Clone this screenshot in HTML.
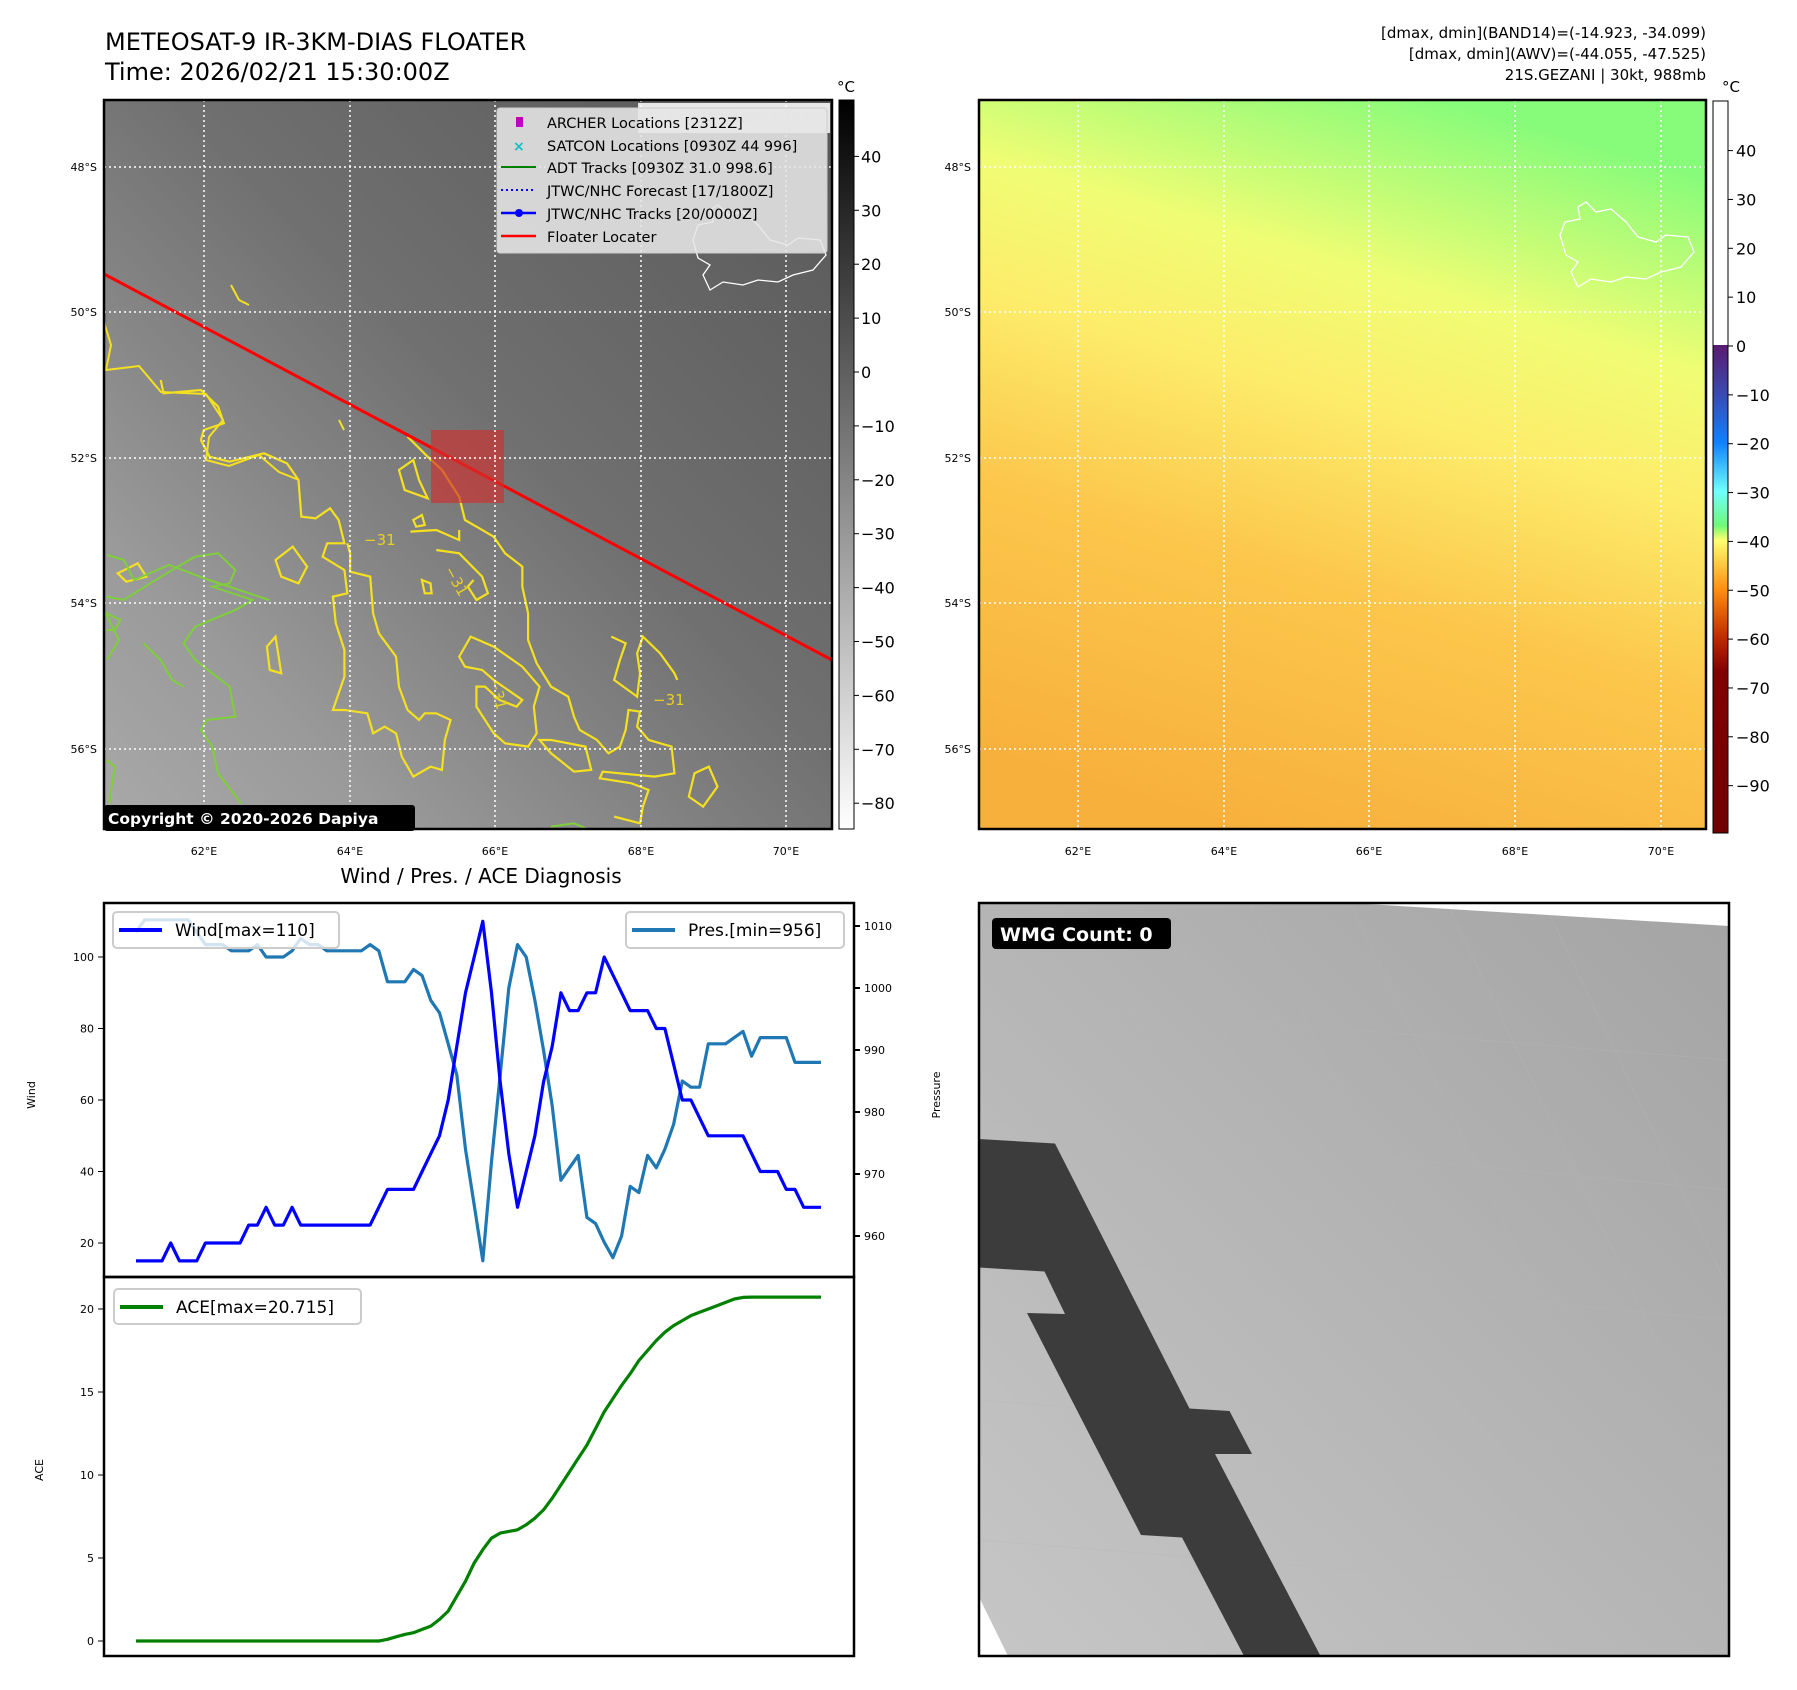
<!DOCTYPE html>
<html><head><meta charset="utf-8"><style>
html,body{margin:0;padding:0;background:#fff}
svg{display:block;font-family:"DejaVu Sans","Liberation Sans",sans-serif}
</style></head><body>
<svg id="fig" width="1797" height="1690" viewBox="0 0 1797 1690" xmlns="http://www.w3.org/2000/svg">
<defs>
<linearGradient id="irg" x1="1" y1="0" x2="0" y2="1">
<stop offset="0" stop-color="#585858"/><stop offset="0.45" stop-color="#707070"/><stop offset="0.8" stop-color="#9a9a9a"/><stop offset="1" stop-color="#a9a9a9"/></linearGradient>
<linearGradient id="awg" x1="0.65" y1="0" x2="0.35" y2="1">
<stop offset="0" stop-color="#86fc7a"/><stop offset="0.25" stop-color="#f0fd74"/><stop offset="0.42" stop-color="#fdec6a"/><stop offset="0.65" stop-color="#fcc74c"/><stop offset="1" stop-color="#f7b03c"/></linearGradient>
<linearGradient id="cb1" x1="0" y1="0" x2="0" y2="1"><stop offset="0" stop-color="#000"/><stop offset="1" stop-color="#fff"/></linearGradient>
<linearGradient id="cb2" x1="0" y1="0" x2="0" y2="1">
<stop offset="0" stop-color="#fff"/><stop offset="0.3333" stop-color="#fff"/><stop offset="0.3334" stop-color="#5a1a70"/>
<stop offset="0.4" stop-color="#3a4ab0"/><stop offset="0.4667" stop-color="#1080ff"/><stop offset="0.5333" stop-color="#70ffff"/>
<stop offset="0.58" stop-color="#70f878"/><stop offset="0.6" stop-color="#ffff70"/><stop offset="0.6667" stop-color="#ff9010"/>
<stop offset="0.7333" stop-color="#c02a00"/><stop offset="0.78" stop-color="#800000"/><stop offset="1" stop-color="#700000"/></linearGradient>
<linearGradient id="wmg" x1="0" y1="1" x2="1" y2="0"><stop offset="0" stop-color="#c6c6c6"/><stop offset="1" stop-color="#a4a4a4"/></linearGradient>
<clipPath id="clipL"><rect x="104" y="100" width="728" height="729"/></clipPath>
</defs>

<text x="105" y="50" font-size="24">METEOSAT-9 IR-3KM-DIAS FLOATER</text>
<text x="105" y="80" font-size="24">Time: 2026/02/21 15:30:00Z</text>
<g font-size="15" text-anchor="end">
<text x="1706" y="38">[dmax, dmin](BAND14)=(-14.923, -34.099)</text>
<text x="1706" y="59">[dmax, dmin](AWV)=(-44.055, -47.525)</text>
<text x="1706" y="80">21S.GEZANI | 30kt, 988mb</text></g>

<g>
<rect x="104" y="100" width="728" height="729" fill="url(#irg)"/>
<g clip-path="url(#clipL)">
<g transform="translate(0,380) scale(0.574,0.3333)" fill="none" stroke="#f5e020" stroke-width="2.2">
<path vector-effect="non-scaling-stroke" d="M280,0 L285,40 L350,30 L380,80 L390,130 L355,150 L350,180 L365,230 L400,245 L460,220 L500,250 L520,300 L525,410 L550,415 L575,385 L590,420 L600,490 L570,490 L562,530 L600,570 L605,640 L580,650 L585,730 L600,810 L600,890 L580,990 L600,990 L640,1000 L650,1060 L670,1040 L690,1060 L700,1130 L720,1190 L750,1160 L770,1170 L775,1080 L785,1020 L760,1000 L740,1000 L730,1020 L710,990 L695,920 L690,830 L660,760 L650,700 L645,590 L610,575 L610,520 L605,490"/>
<path vector-effect="non-scaling-stroke" d="M710,170 L745,230 L770,270 L800,350 L810,420 L840,450 L860,470 L880,520 L910,560 L910,620 L920,700 L920,780 L935,850 L960,920 L990,950 L1000,1010 L1010,1050 L1040,1080 L1060,1120 L1080,1100 L1090,1050 L1095,990 L1115,995 L1110,1040 L1130,1080 L1170,1100 L1175,1180 L1140,1190 L1050,1175 L1045,1195 L1100,1210 L1130,1230 L1120,1280 L1115,1330 L1070,1310"/>
<path vector-effect="non-scaling-stroke" d="M1065,770 L1090,790 L1080,840 L1070,900 L1110,950 L1115,880 L1110,820 L1120,770 L1150,820 L1175,880 L1180,900"/>
<path vector-effect="non-scaling-stroke" d="M820,770 L800,830 L810,860 L840,870 L860,900 L910,960 L900,980 L870,960 L845,920 L830,920 L830,980 L860,1060 L880,1090 L920,1100 L935,1060 L930,980 L940,920 L910,860 L860,800 Z"/>
<path vector-effect="non-scaling-stroke" d="M480,540 L510,500 L535,560 L520,610 L490,590 Z M465,800 L480,770 L490,880 L470,870 Z M1210,1180 L1235,1160 L1250,1220 L1225,1280 L1200,1250 Z M695,270 L720,240 L730,300 L745,355 L705,330 Z M720,420 L735,405 L740,435 L725,440 Z M735,600 L750,610 L752,640 L740,640 Z M940,1080 L960,1080 L1020,1100 L1030,1170 L1000,1175 L960,1120 Z M205,580 L240,550 L255,590 L220,605 Z M715,455 L760,450 L800,480 L800,450 M760,510 L800,520 L840,590 L850,640 L830,660 L815,620 L825,600"/>
</g>
<g transform="translate(0,380) scale(0.574,0.3333)" fill="none" stroke="#7ecf3a" stroke-width="2">
<path vector-effect="non-scaling-stroke" d="M185,650 L215,660 L290,580 L340,530 L380,520 L410,570 L400,610 L370,620 L440,660 L410,690 L340,740 L320,790 L340,840 L370,880 L400,920 L410,1010 L360,1020 L350,1050 L370,1100 L380,1180 L420,1270"/>
<path vector-effect="non-scaling-stroke" d="M185,1140 L200,1160 L190,1270 M185,700 L210,720 L200,750 L185,750 M250,790 L280,840 L300,900 L320,920 M960,1340 L1000,1330 L1020,1345"/>
</g>
<path d="M104,322 L111,345 L106,370 L139,366 L161,392 L206,394 L223,420 L209,437 L206,460 L229,466 L259,455 L279,472 L299,480 M231,285 L239,300 L249,305 M339,420 L344,430" fill="none" stroke="#f5e020" stroke-width="2"/>
<path d="M107,555 L124,560 L134,580 L169,565 L209,580 L269,600 M104,610 L119,640 L107,660" fill="none" stroke="#7ecf3a" stroke-width="2"/>
<g font-size="15" fill="#e8d020">
<text x="364" y="545">−31</text><text x="653" y="705">−31</text><text x="444" y="570" transform="rotate(60 444 570)">−31</text><text x="489" y="680" transform="rotate(75 489 680)">−31</text></g>
<path d="M693,240 L698,225 L713,222 L710,210 L718,205 L728,215 L743,212 L758,225 L770,240 L788,245 L798,238 L820,240 L826,255 L813,270 L793,275 L778,282 L758,280 L743,285 L723,282 L710,290 L703,275 L710,265 L698,258 Z" fill="none" stroke="#fff" stroke-width="1.3"/>
<line x1="104" y1="274" x2="832" y2="660" stroke="#ff0000" stroke-width="3"/>
<rect x="431" y="430" width="73" height="73" fill="#d03030" fill-opacity="0.65"/>
</g>
<g stroke="#fff" stroke-width="1.5" stroke-dasharray="2,3">
<line x1="204" y1="100" x2="204" y2="829"/><line x1="350" y1="100" x2="350" y2="829"/><line x1="495" y1="100" x2="495" y2="829"/><line x1="641" y1="100" x2="641" y2="829"/><line x1="786" y1="100" x2="786" y2="829"/>
<line x1="104" y1="167" x2="832" y2="167"/><line x1="104" y1="312" x2="832" y2="312"/><line x1="104" y1="458" x2="832" y2="458"/><line x1="104" y1="603" x2="832" y2="603"/><line x1="104" y1="749" x2="832" y2="749"/></g>
<g>
<rect x="638" y="103" width="192" height="30" fill="#fff" fill-opacity="0.85"/>
<text x="646" y="124" font-size="16" font-weight="bold" fill="#d8d8d8">© EUMETSAT 2026</text>
<rect x="497" y="108" width="330" height="145" fill="#e6e6e6" fill-opacity="0.88" stroke="#ccc" rx="3"/>
<rect x="516" y="117" width="7" height="10" fill="#c000c0"/>
<text x="513" y="151" font-size="14" fill="#10c0c0" font-weight="bold">×</text>
<line x1="501" y1="167" x2="536" y2="167" stroke="#008000" stroke-width="2"/>
<line x1="501" y1="190" x2="536" y2="190" stroke="#0000ff" stroke-width="2" stroke-dasharray="2,3"/>
<line x1="501" y1="213" x2="536" y2="213" stroke="#0000ff" stroke-width="2.5"/><circle cx="519" cy="213" r="4" fill="#0000ff"/>
<line x1="501" y1="236" x2="536" y2="236" stroke="#ff0000" stroke-width="2.5"/>
<g font-size="14.5" fill="#000"><text x="547" y="128">ARCHER Locations [2312Z]</text><text x="547" y="151">SATCON Locations [0930Z 44 996]</text><text x="547" y="173">ADT Tracks [0930Z 31.0 998.6]</text><text x="547" y="196">JTWC/NHC Forecast [17/1800Z]</text><text x="547" y="219">JTWC/NHC Tracks [20/0000Z]</text><text x="547" y="242">Floater Locater</text></g>
</g>
<rect x="104" y="805" width="311" height="26" fill="#000" rx="3"/>
<text x="108" y="824" font-size="15.5" font-weight="bold" fill="#fff">Copyright © 2020-2026 Dapiya</text>
<rect x="104" y="100" width="728" height="729" fill="none" stroke="#000" stroke-width="2.5"/>
</g>
<g font-size="11">
<g text-anchor="end"><text x="97" y="171">48°S</text><text x="97" y="316">50°S</text><text x="97" y="462">52°S</text><text x="97" y="607">54°S</text><text x="97" y="753">56°S</text></g>
<g text-anchor="middle"><text x="204" y="855">62°E</text><text x="350" y="855">64°E</text><text x="495" y="855">66°E</text><text x="641" y="855">68°E</text><text x="786" y="855">70°E</text></g></g>
<g>
<rect x="839" y="100" width="15" height="729" fill="url(#cb1)" stroke="#000" stroke-width="1"/>
<text x="846" y="92" font-size="15" text-anchor="middle">°C</text>
<g font-size="16" id="cb1ticks"></g></g>

<g>
<rect x="979" y="100" width="727" height="729" fill="url(#awg)"/>
<path d="M1560,235 L1565,222 L1580,219 L1578,207 L1586,202 L1596,212 L1611,209 L1626,222 L1638,237 L1656,242 L1666,235 L1688,237 L1694,252 L1681,267 L1661,272 L1646,279 L1626,277 L1611,282 L1591,279 L1578,287 L1571,272 L1578,262 L1566,255 Z" fill="none" stroke="#fff" stroke-width="1.3"/>
<g stroke="#fff" stroke-width="1.5" stroke-dasharray="2,3">
<line x1="1078" y1="100" x2="1078" y2="829"/><line x1="1224" y1="100" x2="1224" y2="829"/><line x1="1369" y1="100" x2="1369" y2="829"/><line x1="1515" y1="100" x2="1515" y2="829"/><line x1="1661" y1="100" x2="1661" y2="829"/>
<line x1="979" y1="167" x2="1706" y2="167"/><line x1="979" y1="312" x2="1706" y2="312"/><line x1="979" y1="458" x2="1706" y2="458"/><line x1="979" y1="603" x2="1706" y2="603"/><line x1="979" y1="749" x2="1706" y2="749"/></g>
<rect x="979" y="100" width="727" height="729" fill="none" stroke="#000" stroke-width="2.5"/>
</g>
<g font-size="11">
<g text-anchor="end"><text x="971" y="171">48°S</text><text x="971" y="316">50°S</text><text x="971" y="462">52°S</text><text x="971" y="607">54°S</text><text x="971" y="753">56°S</text></g>
<g text-anchor="middle"><text x="1078" y="855">62°E</text><text x="1224" y="855">64°E</text><text x="1369" y="855">66°E</text><text x="1515" y="855">68°E</text><text x="1661" y="855">70°E</text></g></g>
<g>
<rect x="1713" y="101" width="15" height="732" fill="url(#cb2)" stroke="#000" stroke-width="1"/>
<text x="1731" y="92" font-size="15" text-anchor="middle">°C</text>
<g font-size="16" id="cb2ticks"></g></g>

<text x="481" y="883" font-size="20" text-anchor="middle">Wind / Pres. / ACE Diagnosis</text>
<g id="windPanel"></g>
<g id="acePanel"></g>

<g>
<rect x="979" y="903" width="750" height="753" fill="url(#wmg)"/>
<g stroke="#b8b8b8" stroke-opacity="0.35" stroke-width="1" fill="none">
<path d="M1010,903 L1100,1100 M1080,903 L1200,1150 M1160,903 L1320,1230 M1250,903 L1430,1280 M1350,903 L1550,1320 M1450,910 L1680,1390 M1550,915 L1729,1290"/>
<path d="M979,1000 L1729,1060 M979,1120 L1729,1190 M979,1250 L1729,1320 M979,1400 L1729,1460 M979,1540 L1729,1600"/>
</g>
<polygon points="1350,903 1729,903 1729,926" fill="#fff"/>
<polygon points="979,1597 979,1656 1008,1656" fill="#fff"/>
<polygon points="979,1139 1055,1143.5 1189.5,1408.5 1229.5,1411 1252,1454 1215,1454 1320,1655 1243.5,1655 1182,1537.5 1141,1535 1027,1313 1065,1314 1044.5,1271.5 979,1267.5" fill="#3c3c3c"/>
<rect x="979" y="903" width="750" height="753" fill="none" stroke="#000" stroke-width="2.5"/>
<rect x="992" y="918" width="179" height="31" rx="4" fill="#000"/>
<text x="1000" y="941" font-size="19" font-weight="bold" fill="#fff">WMG Count: 0</text>
</g>
</svg>
<script>
const windValues = [15,15,15,15,20,15,15,15,20,20,20,20,20,25,25,30,25,25,30,25,25,25,25,25,25,25,25,25,30,35,35,35,35,40,45,50,60,75,90,100,110,90,65,45,30,40,50,65,75,90,85,85,90,90,100,95,90,85,85,85,80,80,70,60,60,55,50,50,50,50,50,45,40,40,40,35,35,30,30,30];
const presValues = [1009,1011,1011,1011,1011,1011,1011,1009,1007,1007,1007,1006,1006,1006,1007,1005,1005,1005,1006,1008,1007,1007,1006,1006,1006,1006,1006,1007,1006,1001,1001,1001,1003,1002,998,996,991,986,974,965,956,972,986,1000,1007,1005,998,990,981,969,971,973,963,962,959,956.5,960,968,967,973,971,974,978,985,984,984,991,991,991,992,993,989,992,992,992,992,988,988,988,988];
const aceValues = [0,0,0,0,0,0,0,0,0,0,0,0,0,0,0,0,0,0,0,0,0,0,0,0,0,0,0,0,0,0.1,0.25,0.4,0.5,0.7,0.9,1.3,1.8,2.7,3.6,4.7,5.5,6.2,6.5,6.6,6.7,7.0,7.4,7.9,8.6,9.4,10.2,11.0,11.8,12.8,13.8,14.6,15.4,16.1,16.9,17.5,18.1,18.6,19.0,19.3,19.6,19.8,20.0,20.2,20.4,20.6,20.7,20.715,20.715,20.715,20.715,20.715,20.715,20.715,20.715,20.715];
const windTicks = [20,40,60,80,100];
const presTicks = [960,970,980,990,1000,1010];
const aceTicks = [0,5,10,15,20];
const irCbTicks = [40,30,20,10,0,-10,-20,-30,-40,-50,-60,-70,-80];
const awvCbTicks = [40,30,20,10,0,-10,-20,-30,-40,-50,-60,-70,-80,-90];

const NS='http://www.w3.org/2000/svg';
function mk(tag, attrs, parent){const e=document.createElementNS(NS,tag);for(const k in attrs)e.setAttribute(k,attrs[k]);parent.appendChild(e);return e;}
const xS = i => 136 + i*(821-136)/(windValues.length-1);
const yWind = v => 1243 - (v-20)*(1243-957)/80;
const yPres = v => 1236 - (v-960)*(1236-926)/50;
const yAce = v => 1641 - v*(1641-1309)/20;
const yIr = v => 372 - v*5.39;
const yAwv = v => 346 - v*4.885;

const cb1=document.getElementById('cb1ticks');
irCbTicks.forEach(v=>{const y=yIr(v);
 const l=mk('line',{x1:854,y1:y,x2:859,y2:y,stroke:'#000'},cb1);
 
 
 const t=mk('text',{x:861,y:y+6},cb1);t.textContent=(v<0?'−':'')+Math.abs(v);
 
 });
const cb2=document.getElementById('cb2ticks');
awvCbTicks.forEach(v=>{const y=yAwv(v);
 const l=mk('line',{x1:1728,y1:y,x2:1733,y2:y,stroke:'#000'},cb2);
 
 
 const t=mk('text',{x:1736,y:y+6},cb2);t.textContent=(v<0?'−':'')+Math.abs(v);
 
 });

const wp=document.getElementById('windPanel');
mk('rect',{x:104,y:903,width:750,height:374,fill:'#fff'},wp);
const presLine=mk('path',{d:presValues.map((v,i)=>(i?'L':'M')+xS(i).toFixed(1)+','+yPres(v).toFixed(1)).join(' '),fill:'none',stroke:'#1f77b4','stroke-width':3.2,'stroke-linejoin':'round'},wp);


const windLine=mk('path',{d:windValues.map((v,i)=>(i?'L':'M')+xS(i).toFixed(1)+','+yWind(v).toFixed(1)).join(' '),fill:'none',stroke:'#0000ff','stroke-width':3.2,'stroke-linejoin':'round'},wp);


windTicks.forEach(v=>{const y=yWind(v);mk('line',{x1:98,y1:y,x2:104,y2:y,stroke:'#000'},wp);
 const t=mk('text',{x:94,y:y+4,'font-size':11,'text-anchor':'end'},wp);t.textContent=v;
 
 });
presTicks.forEach(v=>{const y=yPres(v);mk('line',{x1:854,y1:y,x2:860,y2:y,stroke:'#000','stroke-width':2},wp);
 const t=mk('text',{x:864,y:y+4,'font-size':11},wp);t.textContent=v;
 
 });
const wl=mk('text',{x:35,y:1095,'font-size':11,'text-anchor':'middle',transform:'rotate(-90 35 1095)'},wp);wl.textContent='Wind';


const pl=mk('text',{x:940,y:1095,'font-size':11,'text-anchor':'middle',transform:'rotate(-90 940 1095)'},wp);pl.textContent='Pressure';


const lg1=mk('g',{},wp);


mk('rect',{x:113,y:912,width:226,height:36,rx:4,fill:'#fff','fill-opacity':0.8,stroke:'#ccc','stroke-width':2},lg1);
mk('line',{x1:119,y1:930,x2:162,y2:930,stroke:'#0000ff','stroke-width':4},lg1);
let t1=mk('text',{x:175,y:936,'font-size':17},lg1);t1.textContent='Wind[max=110]';
const lg2=mk('g',{},wp);


mk('rect',{x:626,y:912,width:218,height:36,rx:4,fill:'#fff','fill-opacity':0.8,stroke:'#ccc','stroke-width':2},lg2);
mk('line',{x1:632,y1:930,x2:675,y2:930,stroke:'#1f77b4','stroke-width':4},lg2);
let t2=mk('text',{x:688,y:936,'font-size':17},lg2);t2.textContent='Pres.[min=956]';
mk('rect',{x:104,y:903,width:750,height:374,fill:'none',stroke:'#000','stroke-width':2.5},wp);

const ap=document.getElementById('acePanel');
const aceLine=mk('path',{d:aceValues.map((v,i)=>(i?'L':'M')+xS(i).toFixed(1)+','+yAce(v).toFixed(1)).join(' '),fill:'none',stroke:'#008000','stroke-width':3.2,'stroke-linejoin':'round'},ap);


aceTicks.forEach(v=>{const y=yAce(v);mk('line',{x1:98,y1:y,x2:104,y2:y,stroke:'#000'},ap);
 const t=mk('text',{x:94,y:y+4,'font-size':11,'text-anchor':'end'},ap);t.textContent=v;
 
 });
const al=mk('text',{x:43,y:1470,'font-size':11,'text-anchor':'middle',transform:'rotate(-90 43 1470)'},ap);al.textContent='ACE';


const lg3=mk('g',{},ap);


mk('rect',{x:114,y:1289,width:247,height:35,rx:4,fill:'#fff','fill-opacity':0.8,stroke:'#ccc','stroke-width':2},lg3);
mk('line',{x1:120,y1:1307,x2:163,y2:1307,stroke:'#008000','stroke-width':4},lg3);
let t3=mk('text',{x:176,y:1313,'font-size':17},lg3);t3.textContent='ACE[max=20.715]';
mk('rect',{x:104,y:1277,width:750,height:379,fill:'none',stroke:'#000','stroke-width':2.5},ap);
</script>
</body></html>
